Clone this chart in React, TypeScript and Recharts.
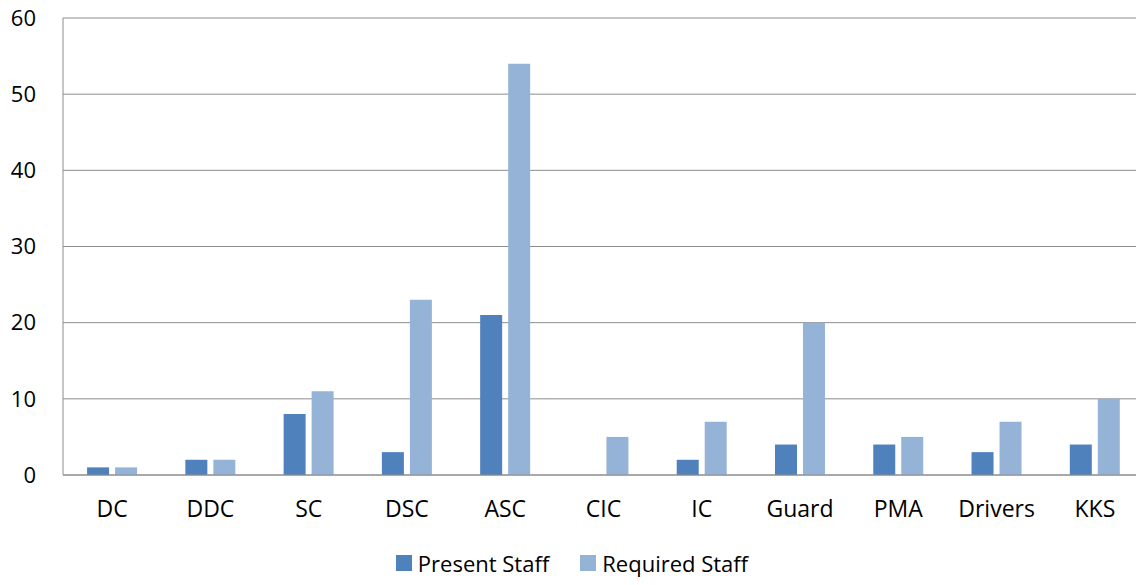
import React from "react";
import {
  BarChart,
  Bar,
  XAxis,
  YAxis,
  CartesianGrid,
  Legend,
} from "recharts";

const categories = ["DC", "DDC", "SC", "DSC", "ASC", "CIC", "IC", "Guard", "PMA", "Drivers", "KKS"];
const presentStaff = [1, 2, 8, 3, 21, 0, 2, 4, 4, 3, 4];
const requiredStaff = [1, 2, 11, 23, 54, 5, 7, 20, 5, 7, 10];
const yTicks = [0, 10, 20, 30, 40, 50, 60];

const series = [
  { key: "present", name: "Present Staff", color: "#4F81BD" },
  { key: "required", name: "Required Staff", color: "#95B3D7" },
];

const FONT = "'Open Sans', sans-serif";

const LegendBox = () => (
  <div
    style={{
      height: 50,
      display: "flex",
      justifyContent: "center",
      alignItems: "center",
      paddingTop: 6,
      boxSizing: "border-box",
      fontFamily: FONT,
      fontSize: 22,
      color: "#000",
    }}
  >
    {series.map((s, i) => (
      <div key={s.key} style={{ display: "flex", alignItems: "center", marginLeft: i ? 31 : 0 }}>
        <span style={{ width: 16, height: 16, background: s.color, display: "inline-block", marginRight: 6 }} />
        <span>{s.name}</span>
      </div>
    ))}
  </div>
);

export default function App() {
  const data = categories.map((name, i) => ({
    name,
    present: presentStaff[i],
    required: requiredStaff[i],
  }));

  return (
    <div style={{ margin: -8, background: "#fff", width: 1144, height: 585 }}>
      <BarChart
        width={1144}
        height={585}
        data={data}
        margin={{ top: 18, right: 0, bottom: 0, left: 0 }}
        barCategoryGap="24.5%"
        barGap={6}
      >
        <CartesianGrid vertical={false} stroke="#8c8c8c" />
        <XAxis
          dataKey="name"
          height={60}
          tickLine={false}
          tickSize={0}
          tickMargin={26}
          axisLine={{ stroke: "#8c8c8c" }}
          tick={{ fill: "#000", fontSize: 23, fontFamily: FONT }}
          interval={0}
        />
        <YAxis
          width={63}
          domain={[0, 60]}
          ticks={yTicks}
          tickLine={false}
          tickSize={0}
          tickMargin={27}
          axisLine={{ stroke: "#8c8c8c" }}
          tick={{ fill: "#000", fontSize: 22, fontFamily: FONT }}
        />
        <Legend verticalAlign="bottom" height={50} content={<LegendBox />} />
        {series.map((s) => (
          <Bar key={s.key} dataKey={s.key} name={s.name} fill={s.color} isAnimationActive={false} />
        ))}
      </BarChart>
    </div>
  );
}
